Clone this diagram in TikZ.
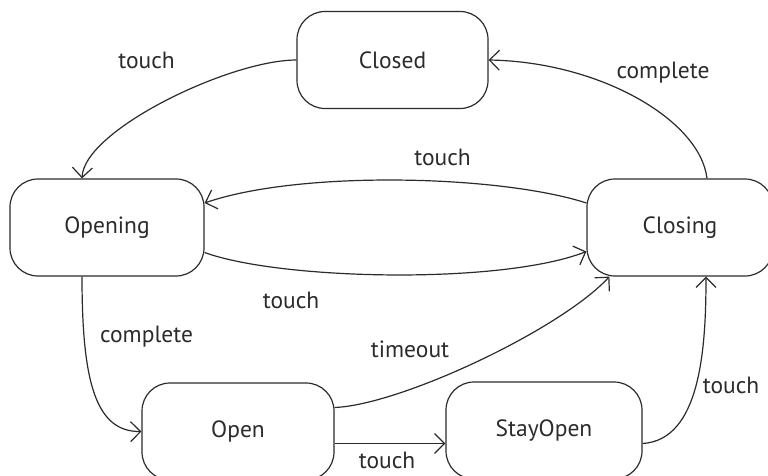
\documentclass[tikz,border=0pt]{standalone}
\usepackage{fontspec}
\setmainfont{PT Sans}
\usetikzlibrary{arrows.meta,calc}
\definecolor{ink}{HTML}{2B2B2B}
\tikzset{
  state/.style={draw=ink, line width=1.2pt, rounded corners=28pt, minimum height=97pt, text=ink, font=\fontsize{23.5}{28}\selectfont, inner sep=0pt},
  lbl/.style={text=ink, font=\fontsize{23.5}{28}\selectfont, inner sep=0pt},
  edge/.style={draw=ink, line width=1.2pt, -{Straight Barb[length=10pt,width=20pt,line width=1.2pt]}}
}
\begin{document}
\begin{tikzpicture}[x=1pt,y=-1pt]
\useasboundingbox (0,0) rectangle (768,476);
\clip (0,0) rectangle (768,476);
\node[state, minimum width=191pt] (closed) at (392.5,60) {Closed};
\node[state, minimum width=194pt] (opening) at (107,227.5) {Opening};
\node[state, minimum width=186pt] (closing) at (680,227.5) {Closing};
\node[state, minimum width=192pt] (open) at (238,431.5) {Open};
\node[state, minimum width=196pt] (stayopen) at (544,430.5) {StayOpen};

\draw[edge] (closed.west) .. controls (230,60) and (84,130) .. ($(opening.north)+(-25,0)$);
\draw[edge] ($(closing.north)+(27,0)$) .. controls (700,120) and (600,62) .. (closed.east);
\draw[edge] ($(closing.west)+(0,-24.5)$) .. controls (500,175) and (300,170) .. ($(opening.east)+(0,-24.5)$);
\draw[edge] ($(opening.east)+(0,25)$) .. controls (280,280) and (500,285) .. ($(closing.west)+(0,24)$);
\draw[edge] ($(opening.south)+(-25,0)$) .. controls (82,380) and (95,432) .. (open.west);
\draw[edge] ($(open.east)+(0,-24)$) .. controls (400,405) and (560,330) .. ($(closing.south west)+(23,0)$);
\draw[edge] ($(open.east)+(0,12)$) -- ($(stayopen.west)+(0,13)$);
\draw[edge] ($(stayopen.east)+(0,13)$) .. controls (700,440) and (706,350) .. ($(closing.south)+(26,0)$);

\node[lbl] (l1) at (146.5,60) {touch};
\node[lbl] (l2) at (663,73) {complete};
\node[lbl] (l3) at (442.5,157) {touch};
\node[lbl] (l4) at (291,300) {touch};
\node[lbl] (l5) at (146.5,337) {complete};
\node[lbl] (l6) at (410,349) {timeout};
\node[lbl] (l7) at (387,460) {touch};
\node[lbl] (l8) at (731,385) {touch};
\end{tikzpicture}
\end{document}
